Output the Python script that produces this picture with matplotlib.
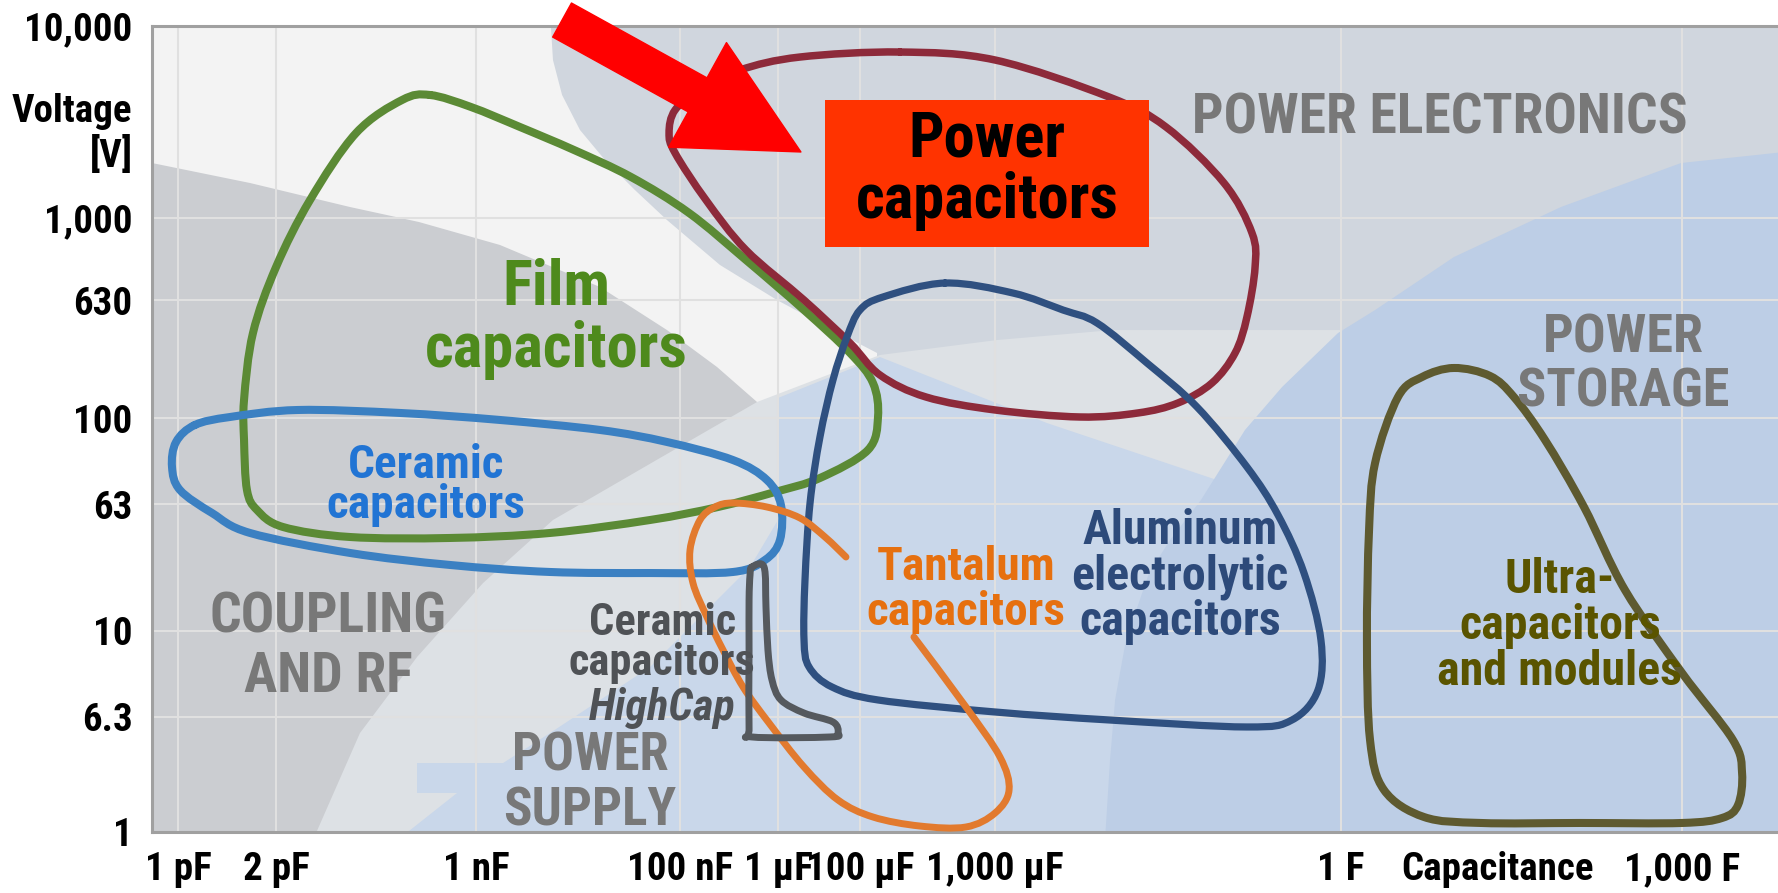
import numpy as np
import matplotlib
matplotlib.use("Agg")
import matplotlib.pyplot as plt
from matplotlib import font_manager
from matplotlib.path import Path
from matplotlib.patches import PathPatch, Polygon, Rectangle

# chart units: both axes run 0..100, ticks sit where the original puts them
x_ticks = [1.60, 7.63, 19.93, 32.47, 38.50, 43.54, 51.85, 73.12, 82.72, 94.10]
x_labels = ["1 pF", "2 pF", "1 nF", "100 nF", "1 µF", "100 µF", "1,000 µF",
            "1 F", "Capacitance", "1,000 F"]
x_grid = [1.60, 7.63, 19.93, 32.47, 38.50, 43.54, 51.85, 73.12, 94.10]
y_ticks = [0, 14.27, 24.94, 40.69, 51.36, 66.00, 76.18, 87.50, 100]
y_labels = ["1", "6.3", "10", "63", "100", "630", "1,000", "Voltage\n[V]", "10,000"]
y_grid = [14.27, 24.94, 40.69, 51.36, 66.00, 76.18]

# background zones
pe_x = [24.5, 24.66, 25.22, 26.32, 27.86, 29.70, 31.67, 34.93, 38.44, 41.88, 44.59, 44.59, 101, 101]
pe_y = [101, 95.78, 91.44, 87.10, 83.37, 79.65, 75.93, 70.35, 66.00, 62.28, 59.43, -1, -1, 101]
coupling_x = [-1, 0, 6.03, 12.18, 16.42, 21.40, 27.55, 31.67, 34.75, 37.21, 38.01, 37.82, 36.16, 32.47, 27.55, -1]
coupling_y = [83.2, 83.0, 80.52, 77.54, 75.68, 72.83, 67.62, 62.28, 57.69, 53.35, 47.02, 38.71, 28.78, 16.38, -1, -1]
band_x = [9.9, 12.79, 16.30, 20.36, 24.66, 31.24, 37.21, 44.77, 51.97, 59.10, 74.48, 74.48]
band_y = [-1, 12.28, 21.71, 30.89, 38.71, 46.40, 53.35, 59.18, 61.04, 62.28, 62.28, -1]
supply_x = [15.1, 18.76, 16.30, 16.30, 21.59, 24.48, 30.63, 36.78, 38.50, 38.50, 44.77, 55.04, 65.87, 65.87]
supply_y = [-1, 4.84, 4.84, 8.56, 8.56, 12.28, 20.47, 32.88, 38.71, 53.85, 58.93, 50.74, 43.42, -1]
storage_x = [58.61, 58.92, 59.23, 59.90, 61.32, 62.61, 64.51, 67.22, 69.50, 72.94, 75.22, 80.07, 86.65, 94.03, 101, 101]
storage_y = [-1, 8.93, 16.38, 23.82, 32.13, 36.23, 41.19, 49.88, 55.21, 61.91, 64.76, 71.34, 77.54, 83.00, 84.5, -1]

# capacitor family outlines
film_x = [17.10, 19.62, 22.63, 25.95, 29.46, 33.03, 36.53, 40.10, 42.93, 44.34, 44.65, 44.03, 41.08,
          38.31, 34.81, 30.63, 24.48, 18.33, 12.18, 8.06, 6.46, 5.84, 5.66, 5.66, 6.21, 7.63, 9.72, 12.55, 15.38]
film_y = [91.44, 89.95, 87.47, 84.62, 81.27, 76.80, 70.97, 64.76, 59.43, 55.71, 51.49, 47.39, 43.92,
          42.18, 40.32, 38.71, 37.10, 36.48, 36.60, 37.84, 39.95, 42.43, 48.64, 53.60, 61.91, 70.10, 78.41, 86.72, 90.82]
power_x = [46.00, 51.85, 58.86, 62.36, 65.93, 67.65, 67.84, 67.34, 66.61, 65.19, 63.10, 60.64, 57.07,
           51.85, 47.60, 44.77, 42.93, 40.10, 36.53, 34.07, 32.17, 31.80, 32.17, 33.70, 36.16, 39.85]
power_y = [96.77, 95.78, 91.19, 87.47, 80.52, 74.32, 70.10, 63.90, 59.43, 55.71, 53.23, 51.99, 51.49,
           52.36, 53.97, 56.70, 60.67, 66.00, 72.21, 78.41, 84.24, 86.72, 89.58, 92.06, 94.54, 96.15]
alu_x = [48.77, 52.95, 56.03, 58.12, 61.19, 64.27, 67.34, 69.25, 70.85, 71.89, 71.71, 70.11, 67.34,
         58.86, 51.85, 44.65, 41.82, 40.41, 40.10, 40.16, 40.47, 41.08, 41.88, 42.74, 43.54, 44.96]
alu_y = [68.11, 66.87, 64.76, 63.15, 58.19, 52.73, 45.29, 39.33, 32.13, 23.82, 17.62, 13.90, 13.03,
         13.90, 14.89, 16.38, 17.99, 20.47, 23.82, 31.27, 40.82, 49.01, 56.08, 61.41, 64.76, 66.38]
ceramic_x = [2.64, 4.80, 8.98, 15.25, 21.40, 27.55, 31.67, 35.73, 37.82, 38.68, 38.62, 37.70, 35.73,
             30.63, 24.48, 18.33, 12.18, 6.03, 3.69, 1.72, 1.23, 1.48]
ceramic_y = [50.50, 51.49, 52.36, 51.99, 51.12, 49.88, 48.39, 46.15, 43.67, 40.57, 36.23, 33.75, 32.26,
             32.13, 32.26, 33.13, 34.62, 37.10, 39.58, 42.43, 45.29, 48.39]
tantalum_x = [46.86, 50.06, 52.15, 52.71, 51.85, 50.06, 47.23, 44.34, 42.19, 40.10, 37.95, 36.35, 35.12,
              34.13, 33.27, 33.09, 33.70, 34.62, 35.73, 37.82, 39.85, 41.39, 42.68]
tantalum_y = [24.19, 15.51, 9.31, 5.21, 2.36, 0.62, 0.74, 1.86, 3.97, 8.06, 13.52, 17.99, 22.58,
              26.67, 30.89, 34.99, 38.71, 40.32, 40.82, 40.32, 38.96, 36.60, 34.12]
highcap_x = [36.90, 37.64, 37.76, 37.88, 38.13, 38.68, 40.10, 41.88, 42.19, 41.70, 36.90, 36.72, 36.72, 36.72, 36.78]
highcap_y = [32.88, 32.88, 27.92, 22.58, 18.86, 16.38, 14.76, 13.65, 12.28, 11.79, 11.79, 12.90, 22.58, 28.78, 31.89]
ultra_x = [80.07, 82.29, 83.76, 85.67, 88.07, 90.59, 94.10, 97.23, 97.79, 97.54, 96.56, 94.10, 87.82,
           81.73, 78.23, 75.77, 74.91, 74.72, 74.85, 75.22, 76.63, 78.11]
ultra_y = [57.57, 56.58, 53.97, 48.64, 40.32, 30.02, 19.73, 11.41, 7.32, 3.35, 1.74, 1.12, 1.12,
           1.12, 1.86, 5.21, 11.41, 23.82, 37.47, 45.78, 53.97, 56.45]

# callout
box_x, box_y, box_w, box_h = 41.39, 72.58, 19.93, 18.24
arrow_tail = (25.22, 100.74)
arrow_tip = (39.91, 84.37)

# text: (string, x centre, first-line baseline, size, colour, line pitch px, style)
gray = "#787878"
texts = [
    ("POWER ELECTRONICS", 79.21, 86.72, 40, gray, None, "normal"),
    ("POWER\nSTORAGE", 90.47, 59.43, 39, gray, 54, "normal"),
    ("COUPLING\nAND RF", 10.82, 24.81, 40, gray, 60, "normal"),
    ("POWER\nSUPPLY", 26.94, 7.57, 38, gray, 55, "normal"),
    ("Film\ncapacitors", 24.85, 65.38, 45, "#4e8a1c", 62, "normal"),
    ("Ceramic\ncapacitors", 16.85, 43.92, 34, "#2174d4", 40, "normal"),
    ("Ceramic\ncapacitors", 31.37, 24.45, 32, "#4f5256", 40, "normal"),
    ("HighCap", 31.37, 13.90, 32, "#4f5256", None, "italic"),
    ("Tantalum\ncapacitors", 50.06, 31.27, 34, "#e6700f", 45, "normal"),
    ("Aluminum\nelectrolytic\ncapacitors", 63.22, 35.61, 34.5, "#2d4a7a", 45, "normal"),
    ("Ultra-\ncapacitors\nand modules", 86.59, 29.65, 34.5, "#5a5400", 46, "normal"),
    ("Power\ncapacitors", 51.35, 83.75, 45, "black", 61, "normal"),
]

names = {f.name for f in font_manager.fontManager.ttflist}
pref = ["Liberation Sans Narrow", "Arial Narrow", "Roboto Condensed", "Open Sans Condensed",
        "DejaVu Sans Condensed"]
FONT = next((n for n in pref if n in names), None)
if FONT is None:
    FONT = next((n for n in sorted(names) if "Narrow" in n or "Condensed" in n), "Liberation Sans")


def smooth_path(xs, ys, closed=True):
    pts = np.column_stack([xs, ys])
    if closed:
        p = np.vstack([pts[-1], pts, pts[0], pts[1]])
    else:
        p = np.vstack([pts[0], pts, pts[-1]])
    verts = [p[1]]
    codes = [Path.MOVETO]
    for i in range(1, len(p) - 2):
        c1 = p[i] + (p[i + 1] - p[i - 1]) / 6
        c2 = p[i + 1] - (p[i + 2] - p[i]) / 6
        verts += [c1, c2, p[i + 1]]
        codes += [Path.CURVE4] * 3
    return Path(verts, codes)


def outline(ax, xs, ys, color, lw, closed=True):
    ax.add_patch(PathPatch(smooth_path(xs, ys, closed), fill=False, edgecolor=color,
                           lw=lw, capstyle="round", joinstyle="round", zorder=3))


fig = plt.figure(figsize=(17.78, 8.93), dpi=100)
renderer = fig.canvas.get_renderer()


def fprop(size, style="normal"):
    return font_manager.FontProperties(family=FONT, weight="bold", style=style, size=size)


def spacing(prop, pitch):
    # matplotlib line pitch = descent + ascent * linespacing
    _, h, d = renderer.get_text_width_height_descent("lp", prop, ismath=False)
    return (pitch - d) / (h - d)


# scale so the text widths match the original's narrow face
w_ref, _, _ = renderer.get_text_width_height_descent("Capacitance", fprop(28), ismath=False)
K = min(1.15, max(0.75, 192.0 / w_ref))

ax = fig.add_axes([152 / 1778, 61 / 893, 1 - 152 / 1778, 806 / 893])
ax.set_xlim(0, 100)
ax.set_ylim(0, 100)
ax.set_facecolor("#f3f3f3")
px_per_unit = fig.get_figheight() * fig.dpi * ax.get_position().height / 100.0

zones = [(pe_x, pe_y, "#d0d6de"), (coupling_x, coupling_y, "#cbcdd1"),
         (band_x, band_y, "#dde1e5"), (supply_x, supply_y, "#c9d7ea"),
         (storage_x, storage_y, "#bdcee6")]
for i, (zx, zy, c) in enumerate(zones):
    ax.add_patch(Polygon(np.column_stack([zx, zy]), closed=True, facecolor=c,
                         edgecolor="none", zorder=0.5 + i * 0.1))

for gx in x_grid:
    ax.axvline(gx, color="#e0e0e0", lw=1.5, zorder=1.5)
for gy in y_grid:
    ax.axhline(gy, color="#e0e0e0", lw=1.5, zorder=1.5)

outline(ax, film_x, film_y, "#5b8a35", 5.8)
outline(ax, power_x, power_y, "#8d2a3a", 5.4)
outline(ax, alu_x, alu_y, "#2f5080", 5.2)
outline(ax, ceramic_x, ceramic_y, "#3b80c2", 5.8)
outline(ax, tantalum_x, tantalum_y, "#e27a2e", 5.0, closed=False)
outline(ax, highcap_x, highcap_y, "#55595e", 5.0)
outline(ax, ultra_x, ultra_y, "#5e5a30", 5.8)

ax.add_patch(Rectangle((box_x, box_y), box_w, box_h, facecolor="#ff3300",
                       edgecolor="none", zorder=4.5))

for s, tx, ty, size, color, pitch, style in texts:
    prop = fprop(size * K, style)
    ls = 1.2
    n_extra = s.count("\n")
    if pitch:
        ls = spacing(prop, pitch)
        # va="baseline" anchors the last line
        ty = ty - n_extra * pitch / px_per_unit
    ax.text(tx, ty, s, fontproperties=prop, color=color, ha="center", va="baseline",
            linespacing=ls, zorder=5)

ax.annotate("", xy=arrow_tip, xytext=arrow_tail, zorder=6,
            arrowprops=dict(arrowstyle="simple,head_length=0.85,head_width=0.86,tail_width=0.28",
                            mutation_scale=100, color="#ff0000", shrinkA=0, shrinkB=0))

ax.set_xticks(x_ticks)
ax.set_xticklabels(x_labels)
ax.set_yticks(y_ticks)
ax.set_yticklabels(y_labels)
ax.tick_params(axis="both", length=0)
ax.tick_params(axis="x", pad=14)
ax.tick_params(axis="y", pad=14)
tick_prop = fprop(28 * K)
for t in ax.get_xticklabels() + ax.get_yticklabels():
    t.set_fontproperties(tick_prop)
    t.set_color("black")
for t in ax.get_yticklabels():
    if "\n" in t.get_text():
        t.set_linespacing(spacing(tick_prop, 43))

for side in ["left", "bottom", "top"]:
    ax.spines[side].set_color("#a0a0a0")
    ax.spines[side].set_linewidth(2.2)
ax.spines["right"].set_visible(False)

fig.savefig("out.png", dpi=100)
